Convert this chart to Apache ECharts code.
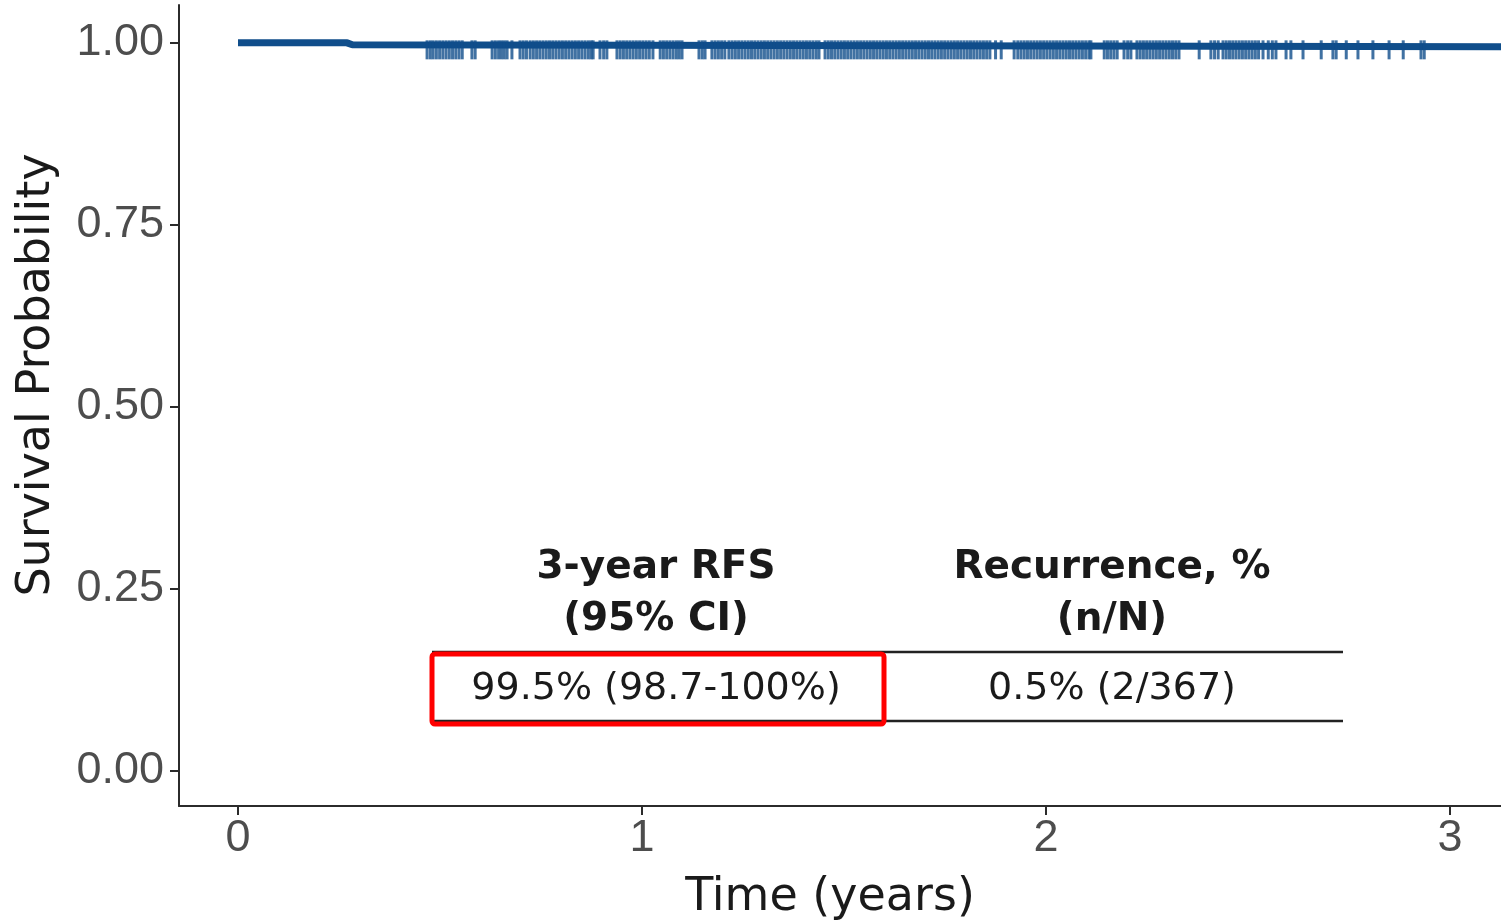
<!DOCTYPE html>
<html><head><meta charset="utf-8">
<script src="https://cdn.jsdelivr.net/npm/echarts@6/dist/echarts.min.js"></script>
<style>html,body{margin:0;padding:0;background:#fff}#c{width:1501px;height:921px}</style>
</head><body><div id="c"></div>
<script>
// ---- data ----
const xTicks = [0, 1, 2, 3];
const yTicks = [0, 0.25, 0.5, 0.75, 1];
// Kaplan-Meier step curve (time in years, survival probability)
const stepTimes = [0, 0.270, 0.283, 3.2];
const stepSurv  = [1, 0.99728, 0.99455, 0.99455];
// censoring times (years)
const censorTimes = [
  0.468,0.476,0.483,0.491,0.499,0.507,0.515,0.523,0.531,0.539,0.547,0.555,
  0.579,0.587,
  0.629,0.637,0.645,0.652,0.659,0.666,
  0.678,0.698,0.706,0.714,
  0.723,0.731,0.739,0.747,0.755,0.763,0.771,0.779,0.787,0.795,0.803,0.811,0.819,0.827,0.835,0.843,0.851,0.859,0.867,0.874,0.879,
  0.896,0.905,0.913,
  0.938,0.946,0.954,0.962,0.970,0.978,0.986,0.994,1.002,1.010,1.018,1.027,
  1.045,1.053,1.061,1.069,1.077,1.085,1.092,1.099,
  1.141,1.149,1.156,
  1.173,1.181,1.189,1.197,1.205,
  1.215,1.223,1.231,1.239,1.247,1.255,1.263,1.271,1.279,1.287,1.295,1.303,1.311,1.319,1.327,1.335,1.343,1.351,1.359,1.367,1.375,1.383,1.391,1.399,1.407,1.415,1.423,1.431,1.438,
  1.453,1.461,1.469,1.477,1.485,1.493,1.501,1.509,1.517,1.525,1.533,1.541,1.549,1.557,1.565,1.573,1.581,1.589,1.597,1.605,1.613,1.621,1.629,1.637,1.645,1.653,1.661,1.669,1.677,1.685,1.693,1.701,1.709,1.717,1.725,1.733,1.741,1.749,1.757,1.765,1.773,1.781,1.789,1.797,1.805,1.813,1.821,1.829,1.837,1.845,1.853,1.861,
  1.875,1.889,
  1.921,1.930,1.938,
  1.946,1.954,1.962,1.970,1.978,1.986,1.994,2.002,2.010,2.018,2.026,2.034,2.042,2.050,2.058,2.066,2.074,2.082,2.090,2.098,2.106,2.111,
  2.144,2.152,2.160,2.168,2.176,
  2.193,2.202,2.210,
  2.225,2.233,2.241,2.249,2.257,2.265,2.273,2.281,2.289,2.297,2.305,2.313,2.321,2.329,
  2.379,2.408,2.417,2.426,
  2.438,2.446,2.454,2.462,2.470,2.478,2.486,2.494,2.502,2.510,2.518,2.526,2.537,
  2.550,2.560,2.569,2.594,2.606,2.636,2.681,2.710,2.718,2.743,2.772,2.809,2.849,2.884,2.928,2.936
];
const tableHeaders = ['3-year RFS\n(95% CI)', 'Recurrence, %\n(n/N)'];
const tableValues  = ['99.5% (98.7-100%)', '0.5% (2/367)'];
const xTitle = 'Time (years)';
const yTitle = 'Survival Probability';

// ---- chart ----
function survAt(t) {
  let s = stepSurv[0];
  for (let i = 0; i < stepTimes.length; i++) if (stepTimes[i] <= t) s = stepSurv[i];
  return s;
}
const lineColor = '#104E8B';
const axisColor = '#2b2b2b';
const tickFont = 'Liberation Sans';

const chart = echarts.init(document.getElementById('c'), null, {renderer: 'canvas'});
chart.setOption({
  animation: false,
  backgroundColor: '#ffffff',
  grid: {left: 179, right: 0, top: 5, bottom: 115, containLabel: false},
  xAxis: {
    type: 'value', min: -0.146, max: 3.126,
    splitLine: {show: false},
    axisLine: {show: true, onZero: false, lineStyle: {color: axisColor, width: 2}},
    axisTick: {show: true, length: 9, customValues: xTicks, lineStyle: {color: axisColor, width: 2}},
    axisLabel: {customValues: xTicks, fontFamily: tickFont, fontSize: 45, color: '#4d4d4d', margin: 10,
      formatter: v => String(Math.round(v))}
  },
  yAxis: {
    type: 'value', min: -0.048, max: 1.052,
    splitLine: {show: false},
    axisLine: {show: true, onZero: false, lineStyle: {color: axisColor, width: 2}},
    axisTick: {show: true, length: 9, customValues: yTicks, lineStyle: {color: axisColor, width: 2}},
    axisLabel: {customValues: yTicks, fontFamily: tickFont, fontSize: 45, color: '#4d4d4d', margin: 15,
      formatter: v => v.toFixed(2)}
  },
  series: [
    {
      type: 'line', step: 'end', showSymbol: false, clip: true, z: 2,
      data: stepTimes.map((t, i) => [t, stepSurv[i]]),
      lineStyle: {color: lineColor, width: 7}
    },
    {
      type: 'scatter', z: 3, silent: true,
      symbol: 'rect', symbolSize: [3, 19], symbolOffset: [0, 3],
      itemStyle: {color: lineColor},
      data: censorTimes.map(t => [t, survAt(t)])
    }
  ],
  graphic: [
    {type: 'text', x: 830, y: 898, style: {text: xTitle, font: '46px "DejaVu Sans"', fill: '#1a1a1a', align: 'center', verticalAlign: 'middle'}},
    {type: 'text', x: 37, y: 375, rotation: Math.PI / 2, style: {text: yTitle, font: '46px "DejaVu Sans"', fill: '#1a1a1a', align: 'center', verticalAlign: 'middle'}},
    {type: 'text', x: 656, y: 594, style: {text: tableHeaders[0], font: 'bold 39px "DejaVu Sans"', lineHeight: 52, fill: '#1a1a1a', align: 'center', verticalAlign: 'middle'}},
    {type: 'text', x: 1112, y: 594, style: {text: tableHeaders[1], font: 'bold 39px "DejaVu Sans"', lineHeight: 52, fill: '#1a1a1a', align: 'center', verticalAlign: 'middle'}},
    {type: 'line', shape: {x1: 432, y1: 652, x2: 1343, y2: 652}, style: {stroke: '#222', lineWidth: 2.5}},
    {type: 'line', shape: {x1: 432, y1: 721, x2: 1343, y2: 721}, style: {stroke: '#222', lineWidth: 2.5}},
    {type: 'text', x: 656, y: 689, style: {text: tableValues[0], font: '38px "DejaVu Sans"', fill: '#1a1a1a', align: 'center', verticalAlign: 'middle'}},
    {type: 'text', x: 1112, y: 689, style: {text: tableValues[1], font: '38px "DejaVu Sans"', fill: '#1a1a1a', align: 'center', verticalAlign: 'middle'}},
    {type: 'rect', z: 10, shape: {x: 432, y: 654, width: 452, height: 70, r: 3}, style: {fill: 'none', stroke: '#ff0000', lineWidth: 5}}
  ]
});
</script>
</body></html>
